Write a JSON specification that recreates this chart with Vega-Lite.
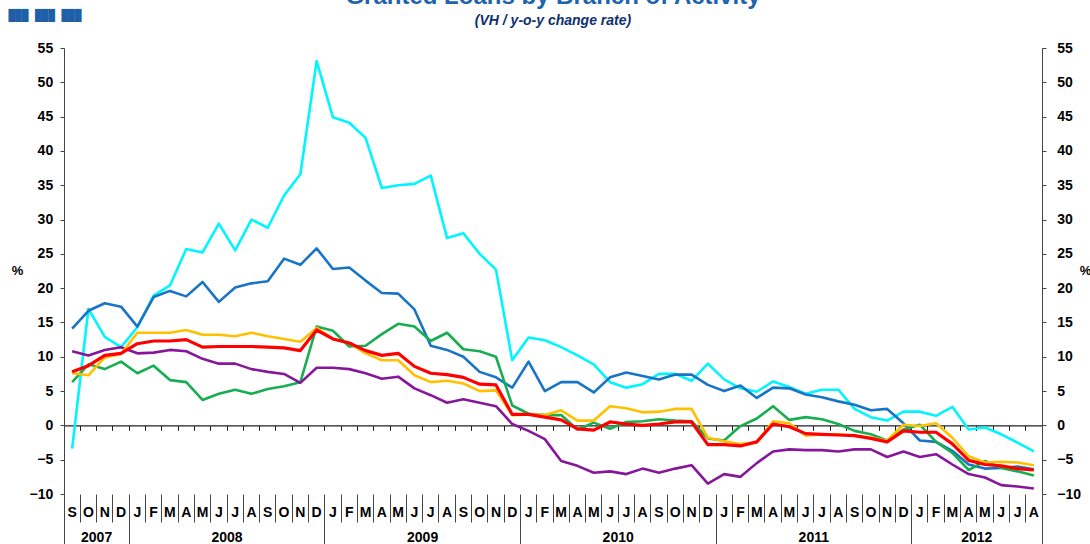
{
"$schema": "https://vega.github.io/schema/vega-lite/v6.json",
"width": 978, "height": 446,
"autosize": {"type": "none"},
"padding": {"left": 64, "top": 48, "right": 48, "bottom": 50},
"background": "white",
"config": {"font": "Liberation Sans", "view": {"stroke": null}},
"title": {"text": "Granted Loans by Branch of Activity", "subtitle": "(VH / y-o-y change rate)", "anchor": "middle", "frame": "group", "font": "Liberation Sans", "fontSize": 24, "fontWeight": "bold", "color": "#1F63AD", "subtitleFont": "Liberation Sans", "subtitleFontSize": 14, "subtitleFontWeight": "bold", "subtitleFontStyle": "italic", "subtitleColor": "#0F2F6E", "subtitlePadding": 5, "offset": -19},
"data": {"values": [
{"m":"2007-09","s":"S1","v":-3.4},{"m":"2007-10","s":"S1","v":17.0},{"m":"2007-11","s":"S1","v":12.9},{"m":"2007-12","s":"S1","v":11.4},{"m":"2008-01","s":"S1","v":14.3},{"m":"2008-02","s":"S1","v":18.9},{"m":"2008-03","s":"S1","v":20.4},{"m":"2008-04","s":"S1","v":25.7},{"m":"2008-05","s":"S1","v":25.2},{"m":"2008-06","s":"S1","v":29.4},{"m":"2008-07","s":"S1","v":25.5},{"m":"2008-08","s":"S1","v":30.0},{"m":"2008-09","s":"S1","v":28.8},{"m":"2008-10","s":"S1","v":33.5},{"m":"2008-11","s":"S1","v":36.6},{"m":"2008-12","s":"S1","v":53.1},{"m":"2009-01","s":"S1","v":44.9},{"m":"2009-02","s":"S1","v":44.1},{"m":"2009-03","s":"S1","v":41.9},{"m":"2009-04","s":"S1","v":34.6},{"m":"2009-05","s":"S1","v":35.0},{"m":"2009-06","s":"S1","v":35.2},{"m":"2009-07","s":"S1","v":36.4},{"m":"2009-08","s":"S1","v":27.3},{"m":"2009-09","s":"S1","v":28.0},{"m":"2009-10","s":"S1","v":25.0},{"m":"2009-11","s":"S1","v":22.7},{"m":"2009-12","s":"S1","v":9.5},{"m":"2010-01","s":"S1","v":12.8},{"m":"2010-02","s":"S1","v":12.4},{"m":"2010-03","s":"S1","v":11.4},{"m":"2010-04","s":"S1","v":10.2},{"m":"2010-05","s":"S1","v":8.9},{"m":"2010-06","s":"S1","v":6.3},{"m":"2010-07","s":"S1","v":5.5},{"m":"2010-08","s":"S1","v":6.0},{"m":"2010-09","s":"S1","v":7.5},{"m":"2010-10","s":"S1","v":7.5},{"m":"2010-11","s":"S1","v":6.5},{"m":"2010-12","s":"S1","v":9.0},{"m":"2011-01","s":"S1","v":6.7},{"m":"2011-02","s":"S1","v":5.4},{"m":"2011-03","s":"S1","v":4.9},{"m":"2011-04","s":"S1","v":6.4},{"m":"2011-05","s":"S1","v":5.6},{"m":"2011-06","s":"S1","v":4.6},{"m":"2011-07","s":"S1","v":5.2},{"m":"2011-08","s":"S1","v":5.2},{"m":"2011-09","s":"S1","v":2.4},{"m":"2011-10","s":"S1","v":1.2},{"m":"2011-11","s":"S1","v":0.7},{"m":"2011-12","s":"S1","v":2.0},{"m":"2012-01","s":"S1","v":2.0},{"m":"2012-02","s":"S1","v":1.4},{"m":"2012-03","s":"S1","v":2.7},{"m":"2012-04","s":"S1","v":-0.6},{"m":"2012-05","s":"S1","v":-0.3},{"m":"2012-06","s":"S1","v":-1.3},{"m":"2012-07","s":"S1","v":-2.5},{"m":"2012-08","s":"S1","v":-3.8},
{"m":"2007-09","s":"S2","v":14.1},{"m":"2007-10","s":"S2","v":16.7},{"m":"2007-11","s":"S2","v":17.8},{"m":"2007-12","s":"S2","v":17.3},{"m":"2008-01","s":"S2","v":14.4},{"m":"2008-02","s":"S2","v":18.7},{"m":"2008-03","s":"S2","v":19.6},{"m":"2008-04","s":"S2","v":18.8},{"m":"2008-05","s":"S2","v":20.9},{"m":"2008-06","s":"S2","v":18.0},{"m":"2008-07","s":"S2","v":20.1},{"m":"2008-08","s":"S2","v":20.7},{"m":"2008-09","s":"S2","v":21.0},{"m":"2008-10","s":"S2","v":24.3},{"m":"2008-11","s":"S2","v":23.4},{"m":"2008-12","s":"S2","v":25.8},{"m":"2009-01","s":"S2","v":22.8},{"m":"2009-02","s":"S2","v":23.0},{"m":"2009-03","s":"S2","v":21.1},{"m":"2009-04","s":"S2","v":19.3},{"m":"2009-05","s":"S2","v":19.2},{"m":"2009-06","s":"S2","v":16.9},{"m":"2009-07","s":"S2","v":11.6},{"m":"2009-08","s":"S2","v":11.0},{"m":"2009-09","s":"S2","v":10.0},{"m":"2009-10","s":"S2","v":7.8},{"m":"2009-11","s":"S2","v":7.0},{"m":"2009-12","s":"S2","v":5.5},{"m":"2010-01","s":"S2","v":9.3},{"m":"2010-02","s":"S2","v":5.0},{"m":"2010-03","s":"S2","v":6.3},{"m":"2010-04","s":"S2","v":6.3},{"m":"2010-05","s":"S2","v":4.8},{"m":"2010-06","s":"S2","v":7.0},{"m":"2010-07","s":"S2","v":7.7},{"m":"2010-08","s":"S2","v":7.2},{"m":"2010-09","s":"S2","v":6.7},{"m":"2010-10","s":"S2","v":7.4},{"m":"2010-11","s":"S2","v":7.4},{"m":"2010-12","s":"S2","v":5.9},{"m":"2011-01","s":"S2","v":5.0},{"m":"2011-02","s":"S2","v":5.8},{"m":"2011-03","s":"S2","v":4.0},{"m":"2011-04","s":"S2","v":5.5},{"m":"2011-05","s":"S2","v":5.4},{"m":"2011-06","s":"S2","v":4.5},{"m":"2011-07","s":"S2","v":4.1},{"m":"2011-08","s":"S2","v":3.5},{"m":"2011-09","s":"S2","v":3.0},{"m":"2011-10","s":"S2","v":2.2},{"m":"2011-11","s":"S2","v":2.4},{"m":"2011-12","s":"S2","v":0.3},{"m":"2012-01","s":"S2","v":-2.2},{"m":"2012-02","s":"S2","v":-2.4},{"m":"2012-03","s":"S2","v":-3.7},{"m":"2012-04","s":"S2","v":-5.7},{"m":"2012-05","s":"S2","v":-6.3},{"m":"2012-06","s":"S2","v":-6.2},{"m":"2012-07","s":"S2","v":-6.0},{"m":"2012-08","s":"S2","v":-6.4},
{"m":"2007-09","s":"S3","v":6.3},{"m":"2007-10","s":"S3","v":8.9},{"m":"2007-11","s":"S3","v":8.2},{"m":"2007-12","s":"S3","v":9.3},{"m":"2008-01","s":"S3","v":7.6},{"m":"2008-02","s":"S3","v":8.7},{"m":"2008-03","s":"S3","v":6.6},{"m":"2008-04","s":"S3","v":6.3},{"m":"2008-05","s":"S3","v":3.7},{"m":"2008-06","s":"S3","v":4.6},{"m":"2008-07","s":"S3","v":5.2},{"m":"2008-08","s":"S3","v":4.6},{"m":"2008-09","s":"S3","v":5.3},{"m":"2008-10","s":"S3","v":5.7},{"m":"2008-11","s":"S3","v":6.3},{"m":"2008-12","s":"S3","v":14.4},{"m":"2009-01","s":"S3","v":13.8},{"m":"2009-02","s":"S3","v":11.5},{"m":"2009-03","s":"S3","v":11.6},{"m":"2009-04","s":"S3","v":13.3},{"m":"2009-05","s":"S3","v":14.8},{"m":"2009-06","s":"S3","v":14.4},{"m":"2009-07","s":"S3","v":12.3},{"m":"2009-08","s":"S3","v":13.5},{"m":"2009-09","s":"S3","v":11.1},{"m":"2009-10","s":"S3","v":10.8},{"m":"2009-11","s":"S3","v":10.0},{"m":"2009-12","s":"S3","v":2.9},{"m":"2010-01","s":"S3","v":1.7},{"m":"2010-02","s":"S3","v":1.5},{"m":"2010-03","s":"S3","v":1.5},{"m":"2010-04","s":"S3","v":-0.6},{"m":"2010-05","s":"S3","v":0.4},{"m":"2010-06","s":"S3","v":-0.5},{"m":"2010-07","s":"S3","v":0.5},{"m":"2010-08","s":"S3","v":0.6},{"m":"2010-09","s":"S3","v":0.9},{"m":"2010-10","s":"S3","v":0.7},{"m":"2010-11","s":"S3","v":0.6},{"m":"2010-12","s":"S3","v":-1.9},{"m":"2011-01","s":"S3","v":-2.2},{"m":"2011-02","s":"S3","v":-0.1},{"m":"2011-03","s":"S3","v":1.0},{"m":"2011-04","s":"S3","v":2.8},{"m":"2011-05","s":"S3","v":0.8},{"m":"2011-06","s":"S3","v":1.2},{"m":"2011-07","s":"S3","v":0.9},{"m":"2011-08","s":"S3","v":0.2},{"m":"2011-09","s":"S3","v":-0.8},{"m":"2011-10","s":"S3","v":-1.3},{"m":"2011-11","s":"S3","v":-2.2},{"m":"2011-12","s":"S3","v":-0.6},{"m":"2012-01","s":"S3","v":0.1},{"m":"2012-02","s":"S3","v":-2.4},{"m":"2012-03","s":"S3","v":-4.0},{"m":"2012-04","s":"S3","v":-6.5},{"m":"2012-05","s":"S3","v":-5.2},{"m":"2012-06","s":"S3","v":-6.2},{"m":"2012-07","s":"S3","v":-6.7},{"m":"2012-08","s":"S3","v":-7.3},
{"m":"2007-09","s":"S4","v":10.8},{"m":"2007-10","s":"S4","v":10.2},{"m":"2007-11","s":"S4","v":11.0},{"m":"2007-12","s":"S4","v":11.4},{"m":"2008-01","s":"S4","v":10.5},{"m":"2008-02","s":"S4","v":10.6},{"m":"2008-03","s":"S4","v":11.0},{"m":"2008-04","s":"S4","v":10.8},{"m":"2008-05","s":"S4","v":9.7},{"m":"2008-06","s":"S4","v":9.0},{"m":"2008-07","s":"S4","v":9.0},{"m":"2008-08","s":"S4","v":8.2},{"m":"2008-09","s":"S4","v":7.8},{"m":"2008-10","s":"S4","v":7.5},{"m":"2008-11","s":"S4","v":6.2},{"m":"2008-12","s":"S4","v":8.4},{"m":"2009-01","s":"S4","v":8.4},{"m":"2009-02","s":"S4","v":8.2},{"m":"2009-03","s":"S4","v":7.6},{"m":"2009-04","s":"S4","v":6.8},{"m":"2009-05","s":"S4","v":7.1},{"m":"2009-06","s":"S4","v":5.4},{"m":"2009-07","s":"S4","v":4.4},{"m":"2009-08","s":"S4","v":3.3},{"m":"2009-09","s":"S4","v":3.8},{"m":"2009-10","s":"S4","v":3.3},{"m":"2009-11","s":"S4","v":2.8},{"m":"2009-12","s":"S4","v":0.2},{"m":"2010-01","s":"S4","v":-0.8},{"m":"2010-02","s":"S4","v":-2.0},{"m":"2010-03","s":"S4","v":-5.2},{"m":"2010-04","s":"S4","v":-5.9},{"m":"2010-05","s":"S4","v":-6.9},{"m":"2010-06","s":"S4","v":-6.7},{"m":"2010-07","s":"S4","v":-7.1},{"m":"2010-08","s":"S4","v":-6.3},{"m":"2010-09","s":"S4","v":-6.9},{"m":"2010-10","s":"S4","v":-6.3},{"m":"2010-11","s":"S4","v":-5.8},{"m":"2010-12","s":"S4","v":-8.5},{"m":"2011-01","s":"S4","v":-7.1},{"m":"2011-02","s":"S4","v":-7.5},{"m":"2011-03","s":"S4","v":-5.5},{"m":"2011-04","s":"S4","v":-3.8},{"m":"2011-05","s":"S4","v":-3.5},{"m":"2011-06","s":"S4","v":-3.6},{"m":"2011-07","s":"S4","v":-3.6},{"m":"2011-08","s":"S4","v":-3.8},{"m":"2011-09","s":"S4","v":-3.5},{"m":"2011-10","s":"S4","v":-3.5},{"m":"2011-11","s":"S4","v":-4.6},{"m":"2011-12","s":"S4","v":-3.8},{"m":"2012-01","s":"S4","v":-4.6},{"m":"2012-02","s":"S4","v":-4.2},{"m":"2012-03","s":"S4","v":-5.7},{"m":"2012-04","s":"S4","v":-7.1},{"m":"2012-05","s":"S4","v":-7.6},{"m":"2012-06","s":"S4","v":-8.7},{"m":"2012-07","s":"S4","v":-8.9},{"m":"2012-08","s":"S4","v":-9.2},
{"m":"2007-09","s":"S5","v":7.6},{"m":"2007-10","s":"S5","v":7.3},{"m":"2007-11","s":"S5","v":9.9},{"m":"2007-12","s":"S5","v":10.4},{"m":"2008-01","s":"S5","v":13.5},{"m":"2008-02","s":"S5","v":13.5},{"m":"2008-03","s":"S5","v":13.5},{"m":"2008-04","s":"S5","v":13.9},{"m":"2008-05","s":"S5","v":13.2},{"m":"2008-06","s":"S5","v":13.2},{"m":"2008-07","s":"S5","v":13.0},{"m":"2008-08","s":"S5","v":13.5},{"m":"2008-09","s":"S5","v":13.0},{"m":"2008-10","s":"S5","v":12.6},{"m":"2008-11","s":"S5","v":12.2},{"m":"2008-12","s":"S5","v":14.2},{"m":"2009-01","s":"S5","v":12.6},{"m":"2009-02","s":"S5","v":12.0},{"m":"2009-03","s":"S5","v":10.5},{"m":"2009-04","s":"S5","v":9.5},{"m":"2009-05","s":"S5","v":9.5},{"m":"2009-06","s":"S5","v":7.3},{"m":"2009-07","s":"S5","v":6.3},{"m":"2009-08","s":"S5","v":6.5},{"m":"2009-09","s":"S5","v":6.1},{"m":"2009-10","s":"S5","v":5.0},{"m":"2009-11","s":"S5","v":5.1},{"m":"2009-12","s":"S5","v":1.5},{"m":"2010-01","s":"S5","v":1.6},{"m":"2010-02","s":"S5","v":1.5},{"m":"2010-03","s":"S5","v":2.2},{"m":"2010-04","s":"S5","v":0.7},{"m":"2010-05","s":"S5","v":0.7},{"m":"2010-06","s":"S5","v":2.8},{"m":"2010-07","s":"S5","v":2.5},{"m":"2010-08","s":"S5","v":1.9},{"m":"2010-09","s":"S5","v":2.0},{"m":"2010-10","s":"S5","v":2.4},{"m":"2010-11","s":"S5","v":2.4},{"m":"2010-12","s":"S5","v":-1.8},{"m":"2011-01","s":"S5","v":-2.3},{"m":"2011-02","s":"S5","v":-2.7},{"m":"2011-03","s":"S5","v":-2.5},{"m":"2011-04","s":"S5","v":0.6},{"m":"2011-05","s":"S5","v":0.3},{"m":"2011-06","s":"S5","v":-1.5},{"m":"2011-07","s":"S5","v":-1.3},{"m":"2011-08","s":"S5","v":-1.3},{"m":"2011-09","s":"S5","v":-1.5},{"m":"2011-10","s":"S5","v":-1.8},{"m":"2011-11","s":"S5","v":-2.2},{"m":"2011-12","s":"S5","v":0.1},{"m":"2012-01","s":"S5","v":-0.1},{"m":"2012-02","s":"S5","v":0.3},{"m":"2012-03","s":"S5","v":-1.8},{"m":"2012-04","s":"S5","v":-4.5},{"m":"2012-05","s":"S5","v":-5.4},{"m":"2012-06","s":"S5","v":-5.3},{"m":"2012-07","s":"S5","v":-5.4},{"m":"2012-08","s":"S5","v":-5.8},
{"m":"2007-09","s":"S6","v":7.8},{"m":"2007-10","s":"S6","v":8.7},{"m":"2007-11","s":"S6","v":10.2},{"m":"2007-12","s":"S6","v":10.5},{"m":"2008-01","s":"S6","v":11.9},{"m":"2008-02","s":"S6","v":12.3},{"m":"2008-03","s":"S6","v":12.3},{"m":"2008-04","s":"S6","v":12.5},{"m":"2008-05","s":"S6","v":11.4},{"m":"2008-06","s":"S6","v":11.5},{"m":"2008-07","s":"S6","v":11.5},{"m":"2008-08","s":"S6","v":11.5},{"m":"2008-09","s":"S6","v":11.4},{"m":"2008-10","s":"S6","v":11.3},{"m":"2008-11","s":"S6","v":10.9},{"m":"2008-12","s":"S6","v":13.9},{"m":"2009-01","s":"S6","v":12.6},{"m":"2009-02","s":"S6","v":12.0},{"m":"2009-03","s":"S6","v":10.9},{"m":"2009-04","s":"S6","v":10.2},{"m":"2009-05","s":"S6","v":10.5},{"m":"2009-06","s":"S6","v":8.6},{"m":"2009-07","s":"S6","v":7.6},{"m":"2009-08","s":"S6","v":7.4},{"m":"2009-09","s":"S6","v":7.0},{"m":"2009-10","s":"S6","v":6.0},{"m":"2009-11","s":"S6","v":5.9},{"m":"2009-12","s":"S6","v":1.6},{"m":"2010-01","s":"S6","v":1.6},{"m":"2010-02","s":"S6","v":1.2},{"m":"2010-03","s":"S6","v":0.8},{"m":"2010-04","s":"S6","v":-0.5},{"m":"2010-05","s":"S6","v":-0.7},{"m":"2010-06","s":"S6","v":0.5},{"m":"2010-07","s":"S6","v":0.2},{"m":"2010-08","s":"S6","v":0.0},{"m":"2010-09","s":"S6","v":0.2},{"m":"2010-10","s":"S6","v":0.5},{"m":"2010-11","s":"S6","v":0.5},{"m":"2010-12","s":"S6","v":-2.8},{"m":"2011-01","s":"S6","v":-2.8},{"m":"2011-02","s":"S6","v":-3.0},{"m":"2011-03","s":"S6","v":-2.4},{"m":"2011-04","s":"S6","v":0.2},{"m":"2011-05","s":"S6","v":-0.2},{"m":"2011-06","s":"S6","v":-1.2},{"m":"2011-07","s":"S6","v":-1.3},{"m":"2011-08","s":"S6","v":-1.4},{"m":"2011-09","s":"S6","v":-1.5},{"m":"2011-10","s":"S6","v":-1.9},{"m":"2011-11","s":"S6","v":-2.4},{"m":"2011-12","s":"S6","v":-0.8},{"m":"2012-01","s":"S6","v":-1.0},{"m":"2012-02","s":"S6","v":-1.0},{"m":"2012-03","s":"S6","v":-2.7},{"m":"2012-04","s":"S6","v":-5.1},{"m":"2012-05","s":"S6","v":-5.7},{"m":"2012-06","s":"S6","v":-5.9},{"m":"2012-07","s":"S6","v":-6.3},{"m":"2012-08","s":"S6","v":-6.5}
]},
"layer": [
{"mark": {"type": "line", "opacity": 0},
 "encoding": {
  "x": {"field": "m", "type": "ordinal", "bandPosition": 0.5, "scale": {"type": "band", "paddingInner": 0, "paddingOuter": 0},
        "axis": {"orient": "bottom", "title": null, "offset": -68.6, "domain": true, "domainColor": "#222", "domainWidth": 1.2, "ticks": false, "labels": false}},
  "y": {"field": "v", "type": "quantitative", "scale": {"domain": [-10, 55], "nice": false, "zero": false}, "axis": null},
  "detail": {"field": "s"}}},
{"mark": {"type": "line", "strokeJoin": "round"},
 "encoding": {
  "x": {"field": "m", "type": "ordinal", "bandPosition": 0.5,
        "axis": {"orient": "bottom", "title": null, "domain": false, "ticks": false, "labelPadding": 11.5, "labelBaseline": "top", "labelAngle": 0, "labelOverlap": false, "labelFontSize": 14, "labelFontWeight": "bold", "labelColor": "black",
                 "labelExpr": "['J','F','M','A','M','J','J','A','S','O','N','D'][toNumber(slice(datum.value,5))-1]"}},
  "y": {"field": "v", "type": "quantitative",
        "axis": {"orient": "left", "values": [-10,-5,0,5,10,15,20,25,30,35,40,45,50,55], "grid": false, "domain": true, "domainColor": "#444", "ticks": true, "tickSize": 4, "tickColor": "#444", "labelPadding": 7.3, "labelFontSize": 14, "labelFontWeight": "bold", "labelColor": "black", "title": "%", "titleAngle": 0, "titleFontSize": 13, "titleFontWeight": "bold", "titleColor": "black", "titleAlign": "center", "titleBaseline": "middle", "titleX": -47, "titleY": 222,
                 "encode": {"ticks": {"update": {"x": {"value": 4}}}}}},
  "color": {"field": "s", "type": "nominal", "legend": null,
            "scale": {"domain": ["S1","S2","S3","S4","S5","S6"], "range": ["#00F5FF","#1874C4","#16AE50","#86179A","#FFC000","#FF0000"]}},
  "strokeWidth": {"condition": {"test": "datum.s === 'S6'", "value": 3.2}, "value": 2.6}}},
{"mark": {"type": "line", "opacity": 0},
 "encoding": {
  "x": {"field": "m", "type": "ordinal", "bandPosition": 0.5,
        "axis": {"orient": "bottom", "title": null, "domain": false, "labels": false, "ticks": true, "tickSize": 50, "tickColor": "#444", "bandPosition": 0, "values": ["2007-09","2008-01","2009-01","2010-01","2011-01","2012-01"]}},
  "y": {"field": "v", "type": "quantitative",
        "axis": {"orient": "right", "values": [-10,-5,0,5,10,15,20,25,30,35,40,45,50,55], "grid": false, "domain": true, "domainColor": "#444", "ticks": true, "tickSize": 4, "tickColor": "#444", "labelPadding": 10.7, "labelFontSize": 14, "labelFontWeight": "bold", "labelColor": "black", "title": "%", "titleAngle": 0, "titleFontSize": 13, "titleFontWeight": "bold", "titleColor": "black", "titleAlign": "center", "titleBaseline": "middle", "titleX": 43, "titleY": 222,
                 "encode": {"ticks": {"update": {"x": {"value": -4}}}}}},
  "detail": {"field": "s"}}},
{"mark": {"type": "line", "opacity": 0},
 "encoding": {
  "x": {"field": "m", "type": "ordinal", "bandPosition": 0.5,
        "axis": {"orient": "bottom", "title": null, "domain": false, "ticks": false, "labelOffset": -8.15, "labelPadding": 36, "labelBaseline": "top", "labelAngle": 0, "labelOverlap": false, "labelFontSize": 14, "labelFontWeight": "bold", "labelColor": "black", "values": ["2007-11","2008-07","2009-07","2010-07","2011-07","2012-05"], "labelExpr": "slice(datum.value,0,4)"}},
  "y": {"field": "v", "type": "quantitative", "axis": null},
  "detail": {"field": "s"}}},
{"mark": {"type": "line", "opacity": 0},
 "encoding": {
  "x": {"field": "m", "type": "ordinal", "bandPosition": 0.5,
        "axis": {"orient": "bottom", "domain": false, "ticks": true, "tickSize": 50, "tickColor": "#444", "bandPosition": 1, "labels": false, "values": ["2012-08"],
                 "title": "███ ███ ███", "titleFont": "DejaVu Sans Mono", "titleFontSize": 11, "titleFontWeight": "normal", "titleColor": "#1F5FA8", "titleAlign": "left", "titleBaseline": "alphabetic", "titleAngle": 0, "titleX": -56, "titleY": -475.8}},
  "y": {"field": "v", "type": "quantitative", "axis": null},
  "detail": {"field": "s"}}},
{"mark": {"type": "line", "opacity": 0}, "encoding": {"x": {"field": "m", "type": "ordinal", "axis": {"orient": "bottom", "title": null, "domain": false, "labels": false, "ticks": true, "tickSize": 28, "tickColor": "#444", "bandPosition": 0, "values": ["2008-02","2009-02","2010-02","2011-02","2012-02"]}}, "y": {"field": "v", "type": "quantitative", "axis": null}, "detail": {"field": "s"}}},
{"mark": {"type": "line", "opacity": 0}, "encoding": {"x": {"field": "m", "type": "ordinal", "axis": {"orient": "bottom", "title": null, "domain": false, "labels": false, "ticks": true, "tickSize": 28, "tickColor": "#444", "bandPosition": 0, "values": ["2008-03","2009-03","2010-03","2011-03","2012-03"]}}, "y": {"field": "v", "type": "quantitative", "axis": null}, "detail": {"field": "s"}}},
{"mark": {"type": "line", "opacity": 0}, "encoding": {"x": {"field": "m", "type": "ordinal", "axis": {"orient": "bottom", "title": null, "domain": false, "labels": false, "ticks": true, "tickSize": 28, "tickColor": "#444", "bandPosition": 0, "values": ["2008-04","2009-04","2010-04","2011-04","2012-04"]}}, "y": {"field": "v", "type": "quantitative", "axis": null}, "detail": {"field": "s"}}},
{"mark": {"type": "line", "opacity": 0}, "encoding": {"x": {"field": "m", "type": "ordinal", "axis": {"orient": "bottom", "title": null, "domain": false, "labels": false, "ticks": true, "tickSize": 28, "tickColor": "#444", "bandPosition": 0, "values": ["2008-05","2009-05","2010-05","2011-05","2012-05"]}}, "y": {"field": "v", "type": "quantitative", "axis": null}, "detail": {"field": "s"}}},
{"mark": {"type": "line", "opacity": 0}, "encoding": {"x": {"field": "m", "type": "ordinal", "axis": {"orient": "bottom", "title": null, "domain": false, "labels": false, "ticks": true, "tickSize": 28, "tickColor": "#444", "bandPosition": 0, "values": ["2008-06","2009-06","2010-06","2011-06","2012-06"]}}, "y": {"field": "v", "type": "quantitative", "axis": null}, "detail": {"field": "s"}}},
{"mark": {"type": "line", "opacity": 0}, "encoding": {"x": {"field": "m", "type": "ordinal", "axis": {"orient": "bottom", "title": null, "domain": false, "labels": false, "ticks": true, "tickSize": 28, "tickColor": "#444", "bandPosition": 0, "values": ["2008-07","2009-07","2010-07","2011-07","2012-07"]}}, "y": {"field": "v", "type": "quantitative", "axis": null}, "detail": {"field": "s"}}},
{"mark": {"type": "line", "opacity": 0}, "encoding": {"x": {"field": "m", "type": "ordinal", "axis": {"orient": "bottom", "title": null, "domain": false, "labels": false, "ticks": true, "tickSize": 28, "tickColor": "#444", "bandPosition": 0, "values": ["2008-08","2009-08","2010-08","2011-08","2012-08"]}}, "y": {"field": "v", "type": "quantitative", "axis": null}, "detail": {"field": "s"}}},
{"mark": {"type": "line", "opacity": 0}, "encoding": {"x": {"field": "m", "type": "ordinal", "axis": {"orient": "bottom", "title": null, "domain": false, "labels": false, "ticks": true, "tickSize": 28, "tickColor": "#444", "bandPosition": 0, "values": ["2008-09","2009-09","2010-09","2011-09"]}}, "y": {"field": "v", "type": "quantitative", "axis": null}, "detail": {"field": "s"}}},
{"mark": {"type": "line", "opacity": 0}, "encoding": {"x": {"field": "m", "type": "ordinal", "axis": {"orient": "bottom", "title": null, "domain": false, "labels": false, "ticks": true, "tickSize": 28, "tickColor": "#444", "bandPosition": 0, "values": ["2007-10","2008-10","2009-10","2010-10","2011-10"]}}, "y": {"field": "v", "type": "quantitative", "axis": null}, "detail": {"field": "s"}}},
{"mark": {"type": "line", "opacity": 0}, "encoding": {"x": {"field": "m", "type": "ordinal", "axis": {"orient": "bottom", "title": null, "domain": false, "labels": false, "ticks": true, "tickSize": 28, "tickColor": "#444", "bandPosition": 0, "values": ["2007-11","2008-11","2009-11","2010-11","2011-11"]}}, "y": {"field": "v", "type": "quantitative", "axis": null}, "detail": {"field": "s"}}},
{"mark": {"type": "line", "opacity": 0}, "encoding": {"x": {"field": "m", "type": "ordinal", "axis": {"orient": "bottom", "title": null, "domain": false, "labels": false, "ticks": true, "tickSize": 28, "tickColor": "#444", "bandPosition": 0, "values": ["2007-12","2008-12","2009-12","2010-12","2011-12"]}}, "y": {"field": "v", "type": "quantitative", "axis": null}, "detail": {"field": "s"}}},
{"mark": {"type": "line", "opacity": 0}, "encoding": {"x": {"field": "m", "type": "ordinal", "axis": {"orient": "bottom", "title": null, "offset": -68.6, "domain": false, "labels": false, "ticks": true, "tickSize": 5, "tickColor": "#222", "bandPosition": 0, "values": ["2008-01","2009-01","2010-01","2011-01","2012-01"]}}, "y": {"field": "v", "type": "quantitative", "axis": null}, "detail": {"field": "s"}}},
{"mark": {"type": "line", "opacity": 0}, "encoding": {"x": {"field": "m", "type": "ordinal", "axis": {"orient": "bottom", "title": null, "offset": -68.6, "domain": false, "labels": false, "ticks": true, "tickSize": 5, "tickColor": "#222", "bandPosition": 0, "values": ["2008-02","2009-02","2010-02","2011-02","2012-02"]}}, "y": {"field": "v", "type": "quantitative", "axis": null}, "detail": {"field": "s"}}},
{"mark": {"type": "line", "opacity": 0}, "encoding": {"x": {"field": "m", "type": "ordinal", "axis": {"orient": "bottom", "title": null, "offset": -68.6, "domain": false, "labels": false, "ticks": true, "tickSize": 5, "tickColor": "#222", "bandPosition": 0, "values": ["2008-03","2009-03","2010-03","2011-03","2012-03"]}}, "y": {"field": "v", "type": "quantitative", "axis": null}, "detail": {"field": "s"}}},
{"mark": {"type": "line", "opacity": 0}, "encoding": {"x": {"field": "m", "type": "ordinal", "axis": {"orient": "bottom", "title": null, "offset": -68.6, "domain": false, "labels": false, "ticks": true, "tickSize": 5, "tickColor": "#222", "bandPosition": 0, "values": ["2008-04","2009-04","2010-04","2011-04","2012-04"]}}, "y": {"field": "v", "type": "quantitative", "axis": null}, "detail": {"field": "s"}}},
{"mark": {"type": "line", "opacity": 0}, "encoding": {"x": {"field": "m", "type": "ordinal", "axis": {"orient": "bottom", "title": null, "offset": -68.6, "domain": false, "labels": false, "ticks": true, "tickSize": 5, "tickColor": "#222", "bandPosition": 0, "values": ["2008-05","2009-05","2010-05","2011-05","2012-05"]}}, "y": {"field": "v", "type": "quantitative", "axis": null}, "detail": {"field": "s"}}},
{"mark": {"type": "line", "opacity": 0}, "encoding": {"x": {"field": "m", "type": "ordinal", "axis": {"orient": "bottom", "title": null, "offset": -68.6, "domain": false, "labels": false, "ticks": true, "tickSize": 5, "tickColor": "#222", "bandPosition": 0, "values": ["2008-06","2009-06","2010-06","2011-06","2012-06"]}}, "y": {"field": "v", "type": "quantitative", "axis": null}, "detail": {"field": "s"}}},
{"mark": {"type": "line", "opacity": 0}, "encoding": {"x": {"field": "m", "type": "ordinal", "axis": {"orient": "bottom", "title": null, "offset": -68.6, "domain": false, "labels": false, "ticks": true, "tickSize": 5, "tickColor": "#222", "bandPosition": 0, "values": ["2008-07","2009-07","2010-07","2011-07","2012-07"]}}, "y": {"field": "v", "type": "quantitative", "axis": null}, "detail": {"field": "s"}}},
{"mark": {"type": "line", "opacity": 0}, "encoding": {"x": {"field": "m", "type": "ordinal", "axis": {"orient": "bottom", "title": null, "offset": -68.6, "domain": false, "labels": false, "ticks": true, "tickSize": 5, "tickColor": "#222", "bandPosition": 0, "values": ["2008-08","2009-08","2010-08","2011-08","2012-08"]}}, "y": {"field": "v", "type": "quantitative", "axis": null}, "detail": {"field": "s"}}},
{"mark": {"type": "line", "opacity": 0}, "encoding": {"x": {"field": "m", "type": "ordinal", "axis": {"orient": "bottom", "title": null, "offset": -68.6, "domain": false, "labels": false, "ticks": true, "tickSize": 5, "tickColor": "#222", "bandPosition": 0, "values": ["2007-09","2008-09","2009-09","2010-09","2011-09"]}}, "y": {"field": "v", "type": "quantitative", "axis": null}, "detail": {"field": "s"}}},
{"mark": {"type": "line", "opacity": 0}, "encoding": {"x": {"field": "m", "type": "ordinal", "axis": {"orient": "bottom", "title": null, "offset": -68.6, "domain": false, "labels": false, "ticks": true, "tickSize": 5, "tickColor": "#222", "bandPosition": 0, "values": ["2007-10","2008-10","2009-10","2010-10","2011-10"]}}, "y": {"field": "v", "type": "quantitative", "axis": null}, "detail": {"field": "s"}}},
{"mark": {"type": "line", "opacity": 0}, "encoding": {"x": {"field": "m", "type": "ordinal", "axis": {"orient": "bottom", "title": null, "offset": -68.6, "domain": false, "labels": false, "ticks": true, "tickSize": 5, "tickColor": "#222", "bandPosition": 0, "values": ["2007-11","2008-11","2009-11","2010-11","2011-11"]}}, "y": {"field": "v", "type": "quantitative", "axis": null}, "detail": {"field": "s"}}},
{"mark": {"type": "line", "opacity": 0}, "encoding": {"x": {"field": "m", "type": "ordinal", "axis": {"orient": "bottom", "title": null, "offset": -68.6, "domain": false, "labels": false, "ticks": true, "tickSize": 5, "tickColor": "#222", "bandPosition": 0, "values": ["2007-12","2008-12","2009-12","2010-12","2011-12"]}}, "y": {"field": "v", "type": "quantitative", "axis": null}, "detail": {"field": "s"}}}
],
"resolve": {"axis": {"x": "independent", "y": "independent"}}
}
